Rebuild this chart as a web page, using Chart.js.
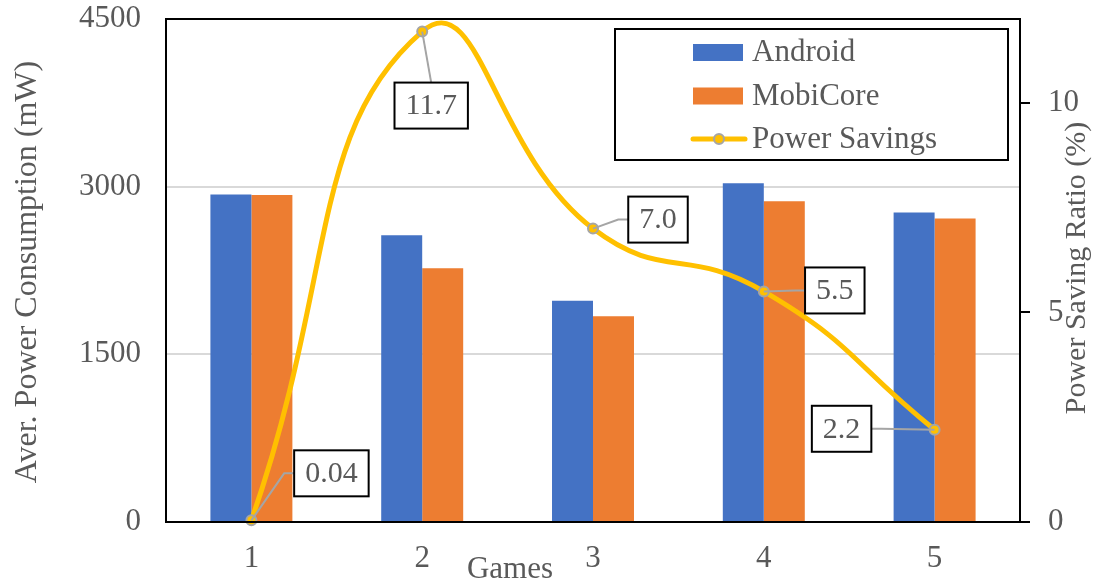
<!DOCTYPE html>
<html>
<head>
<meta charset="utf-8">
<script src="https://cdn.jsdelivr.net/npm/chart.js@4.4.1/dist/chart.umd.min.js"></script>
<style>
    html, body { margin: 0; padding: 0; background: #fff; }
    #chart { display: block; }
</style>
</head>
<body>
<canvas id="chart" width="1099" height="582"></canvas>
<script>
    var games = ['1', '2', '3', '4', '5'];
    var android = [2930, 2565, 1980, 3030, 2770];
    var mobiCore = [2925, 2270, 1840, 2870, 2715];
    var powerSavings = [0.04, 11.7, 7.0, 5.5, 2.2];

    var powerTicks = [0, 1500, 3000, 4500];
    var ratioTicks = [0, 5, 10];

    var textColor = '#595959';
    var fontFamily = '"Liberation Serif", "Times New Roman", serif';

    // where each value box sits relative to its point, and which side the leader enters
    var calloutOffsets = [
        { dx: 80, dy: -47, side: 'left' },
        { dx: 9, dy: 74, side: 'top' },
        { dx: 65, dy: -9, side: 'left' },
        { dx: 71, dy: -1, side: 'left' },
        { dx: -93, dy: -1, side: 'right' }
    ];

    function fmt(v) {
        return v < 1 ? v.toFixed(2) : v.toFixed(1);
    }

    // drop the automatic label overhang so the plot area sits where we want it
    function noOverhang(scale) {
        scale.paddingTop = 0;
        scale.paddingBottom = 0;
        scale.paddingLeft = 0;
        scale.paddingRight = 0;
    }

    var frameAndLabels = {
        id: 'frameAndLabels',
        afterDraw: function (chart) {
            var ctx = chart.ctx;
            var area = chart.chartArea;

            // plot frame
            ctx.save();
            ctx.strokeStyle = '#000';
            ctx.lineWidth = 2;
            ctx.strokeRect(area.left, area.top, area.right - area.left, area.bottom - area.top);

            // value callouts on the savings line
            var meta = chart.getDatasetMeta(0);
            ctx.font = '30px ' + fontFamily;
            ctx.textAlign = 'center';
            ctx.textBaseline = 'middle';
            meta.data.forEach(function (pt, i) {
                var o = calloutOffsets[i];
                var text = fmt(powerSavings[i]);
                var w = ctx.measureText(text).width + 22;
                var h = 46;
                var cx = pt.x + o.dx;
                var cy = pt.y + o.dy;

                ctx.strokeStyle = '#A5A5A5';
                ctx.lineWidth = 2;
                ctx.beginPath();
                ctx.moveTo(pt.x, pt.y);
                if (o.side === 'left') {
                    ctx.lineTo(cx - w / 2 - 10, cy);
                    ctx.lineTo(cx - w / 2, cy);
                } else if (o.side === 'right') {
                    ctx.lineTo(cx + w / 2 + 10, cy);
                    ctx.lineTo(cx + w / 2, cy);
                } else {
                    ctx.lineTo(cx, cy - h / 2);
                }
                ctx.stroke();

                ctx.fillStyle = '#fff';
                ctx.fillRect(cx - w / 2, cy - h / 2, w, h);
                ctx.strokeStyle = '#000';
                ctx.lineWidth = 2;
                ctx.strokeRect(cx - w / 2, cy - h / 2, w, h);
                ctx.fillStyle = textColor;
                ctx.fillText(text, cx, cy + 1);
            });

            // legend box
            var lx = 615, ly = 29, lw = 393, lh = 131;
            ctx.fillStyle = '#fff';
            ctx.fillRect(lx, ly, lw, lh);
            ctx.strokeStyle = '#000';
            ctx.lineWidth = 2;
            ctx.strokeRect(lx, ly, lw, lh);

            var order = [1, 2, 0];
            ctx.font = '31px ' + fontFamily;
            ctx.textAlign = 'left';
            order.forEach(function (di, row) {
                var ds = chart.data.datasets[di];
                var y = 52 + row * 43.5;
                if (ds.type === 'line') {
                    ctx.strokeStyle = ds.borderColor;
                    ctx.lineWidth = 5;
                    ctx.lineCap = 'round';
                    ctx.beginPath();
                    ctx.moveTo(693, y);
                    ctx.lineTo(745, y);
                    ctx.stroke();
                    ctx.beginPath();
                    ctx.arc(719, y, 5, 0, Math.PI * 2);
                    ctx.fillStyle = ds.pointBackgroundColor;
                    ctx.fill();
                    ctx.strokeStyle = ds.pointBorderColor;
                    ctx.lineWidth = 2;
                    ctx.stroke();
                } else {
                    ctx.fillStyle = ds.backgroundColor;
                    ctx.fillRect(693, y - 8, 50, 17);
                }
                ctx.fillStyle = textColor;
                ctx.fillText(ds.label, 752, y + 1);
            });

            // axis titles
            ctx.fillStyle = textColor;
            ctx.textAlign = 'center';
            ctx.font = '31px ' + fontFamily;
            ctx.textBaseline = 'alphabetic';
            ctx.fillText('Games', 510, 578);

            ctx.textBaseline = 'middle';
            ctx.font = '32px ' + fontFamily;
            ctx.save();
            ctx.translate(28, 272);
            ctx.rotate(-Math.PI / 2);
            ctx.fillText('Aver. Power Consumption (mW)', 0, 0);
            ctx.restore();

            ctx.font = '30px ' + fontFamily;
            ctx.save();
            ctx.translate(1077, 268);
            ctx.rotate(-Math.PI / 2);
            ctx.fillText('Power Saving Ratio (%)', 0, 0);
            ctx.restore();

            ctx.restore();
        }
    };

    var ctx = document.getElementById('chart').getContext('2d');
    new Chart(ctx, {
        data: {
            labels: games,
            datasets: [
                {
                    type: 'line',
                    label: 'Power Savings',
                    data: powerSavings,
                    yAxisID: 'yRatio',
                    borderColor: '#FFC000',
                    borderWidth: 5,
                    tension: 0.5,
                    capBezierPoints: false,
                    pointRadius: 5,
                    pointBackgroundColor: '#FFC000',
                    pointBorderColor: '#A5A5A5',
                    pointBorderWidth: 2,
                    clip: false,
                    order: 0
                },
                {
                    type: 'bar',
                    label: 'Android',
                    data: android,
                    yAxisID: 'yPower',
                    backgroundColor: '#4472C4',
                    categoryPercentage: 0.48,
                    barPercentage: 1,
                    order: 1
                },
                {
                    type: 'bar',
                    label: 'MobiCore',
                    data: mobiCore,
                    yAxisID: 'yPower',
                    backgroundColor: '#ED7D31',
                    categoryPercentage: 0.48,
                    barPercentage: 1,
                    order: 2
                }
            ]
        },
        options: {
            responsive: false,
            animation: false,
            layout: { padding: { top: 19, left: 0, right: 0, bottom: 0 } },
            plugins: {
                legend: { display: false },
                tooltip: { enabled: false }
            },
            scales: {
                x: {
                    grid: { display: false, drawTicks: false },
                    border: { display: false },
                    ticks: {
                        color: textColor,
                        font: { family: fontFamily, size: 31 },
                        padding: 18
                    },
                    afterFit: function (scale) {
                        scale.height = 60;
                        noOverhang(scale);
                    }
                },
                yPower: {
                    position: 'left',
                    min: 0,
                    max: 4500,
                    grid: { color: '#D9D9D9', lineWidth: 2, drawTicks: false },
                    border: { display: false },
                    ticks: {
                        stepSize: 1500,
                        color: textColor,
                        font: { family: fontFamily, size: 31 },
                        padding: 25,
                        callback: function (v) { return String(v); }
                    },
                    afterBuildTicks: function (scale) {
                        scale.ticks = powerTicks.map(function (v) { return { value: v }; });
                    },
                    afterFit: function (scale) {
                        scale.width = 166;
                        noOverhang(scale);
                    }
                },
                yRatio: {
                    position: 'right',
                    min: 0,
                    max: 12,
                    grid: {
                        drawOnChartArea: false,
                        drawTicks: true,
                        tickLength: 10,
                        color: '#000',
                        lineWidth: 2
                    },
                    border: { display: false },
                    ticks: {
                        stepSize: 5,
                        color: textColor,
                        font: { family: fontFamily, size: 31 },
                        padding: 18,
                        callback: function (v) { return String(v); }
                    },
                    afterBuildTicks: function (scale) {
                        scale.ticks = ratioTicks.map(function (v) { return { value: v }; });
                    },
                    afterFit: function (scale) {
                        scale.width = 79;
                        noOverhang(scale);
                    }
                }
            }
        },
        plugins: [frameAndLabels]
    });
</script>
</body>
</html>
